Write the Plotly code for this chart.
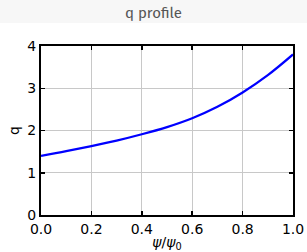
import plotly.graph_objects as go

psi = [0.0, 0.1, 0.2, 0.3, 0.4, 0.5, 0.6, 0.7, 0.8, 0.9, 1.0]
q = [1.40, 1.51, 1.63, 1.76, 1.91, 2.08, 2.29, 2.56, 2.90, 3.31, 3.80]
x_ticks = [0.0, 0.2, 0.4, 0.6, 0.8, 1.0]
x_labels = ["0.0", "0.2", "0.4", "0.6", "0.8", "1.0"]
y_ticks = [0, 1, 2, 3, 4]
y_labels = ["0", "1", "2", "3", "4"]

W, H = 307, 252
L, R, T, B = 41, 14, 46, 37
ph = H - T - B
pw = W - L - R

fig = go.Figure()
fig.add_trace(go.Scatter(x=psi, y=q, mode="lines", line=dict(color="#0000ff", width=2.2, shape="spline"),
                         hoverinfo="skip", showlegend=False))

axis_common = dict(showgrid=True, gridcolor="#c8c8c8", gridwidth=1, showline=True, linecolor="black",
                   linewidth=2, mirror="ticks", ticks="inside", ticklen=4, tickwidth=1.5, tickcolor="black",
                   zeroline=False, automargin=False,
                   tickfont=dict(family="DejaVu Sans", size=14, color="black"))

fig.update_layout(
    width=W, height=H,
    margin=dict(l=L, r=R, t=T, b=B, autoexpand=False),
    paper_bgcolor="white", plot_bgcolor="white",
    title=dict(text="q profile", x=0.5, xanchor="center", yref="container", y=1 - 12.5 / H, yanchor="middle",
               font=dict(family="Fira Sans, Open Sans, sans-serif", size=15, color="#555555")),
    xaxis=dict(range=[0, 1], tickvals=x_ticks, ticktext=x_labels,
               title=dict(text="<i>ψ</i>/<i>ψ</i><sub>0</sub>", standoff=1,
                          font=dict(family="DejaVu Sans", size=14, color="black")), **axis_common),
    yaxis=dict(range=[0, 4], tickvals=y_ticks, ticktext=y_labels,
               title=dict(text="q", standoff=4,
                          font=dict(family="DejaVu Sans", size=14, color="black")), **axis_common),
    shapes=[dict(type="rect", xref="paper", yref="paper", layer="below",
                 x0=-L / pw, x1=(W - L) / pw, y0=1 + (T - 23) / ph, y1=1 + T / ph,
                 fillcolor="#f7f7f7", line=dict(width=0))],
)

fig.write_html("out.html", config={"displayModeBar": False, "staticPlot": True},
               post_script="document.body.style.margin='0';document.body.style.overflow='hidden';")
